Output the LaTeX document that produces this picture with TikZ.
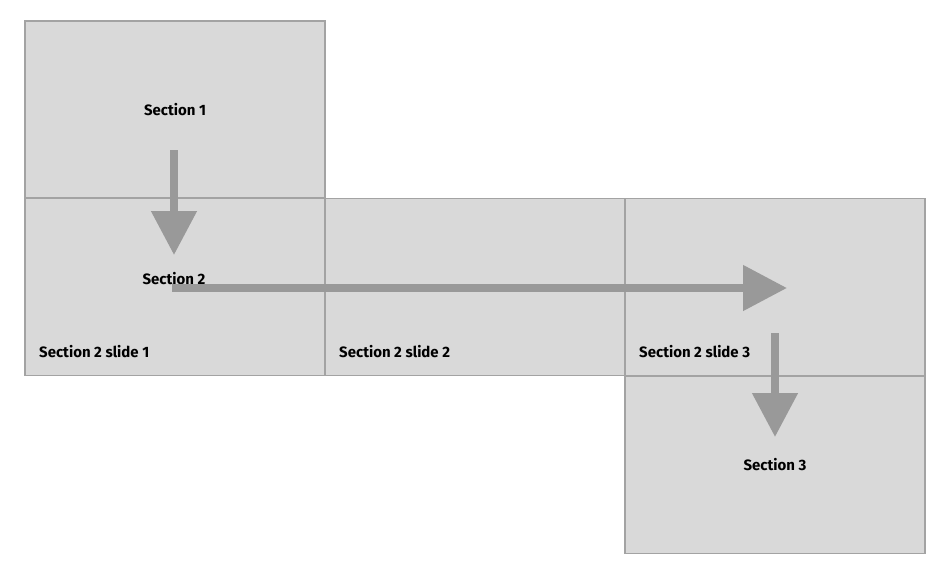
\documentclass[tikz,border=0pt]{standalone}
\usepackage{fontspec}
\setmainfont{Fira Sans}
\usetikzlibrary{arrows.meta}
\definecolor{boxfill}{HTML}{D9D9D9}
\definecolor{boxline}{HTML}{A3A3A3}
\definecolor{flowgray}{HTML}{999999}
\tikzset{
  slidebox/.style={draw=boxline, line width=1.3pt, fill=boxfill, minimum width=300pt, minimum height=177pt, inner sep=0pt},
  flow/.style={draw=flowgray, line width=8pt, -{Triangle[width=44pt,length=44pt]}},
  lbl/.style={font=\fontsize{15}{18}\selectfont\bfseries, inner sep=0pt}
}
\begin{document}
\begin{tikzpicture}[x=1pt,y=-1pt]
   \useasboundingbox (0,0) rectangle (947,576);

   % boxes
   \node[slidebox] (sec1) at (175,109.5) {};
   \node[slidebox] (slide1) at (175,287) {};
   \node[slidebox] (slide2) at (475,287) {};
   \node[slidebox] (slide3) at (775,287) {};
   \node[slidebox] (sec3) at (775,465) {};

   % labels
   \node[lbl] (t1) at (sec1) {Section 1};
   \node[lbl] (t2) at (174,279) {Section 2};
   \node[lbl, anchor=west] (ts1) at (39,352) {Section 2 slide 1};
   \node[lbl, anchor=west] (ts2) at (339,352) {Section 2 slide 2};
   \node[lbl, anchor=west] (ts3) at (639,352) {Section 2 slide 3};
   \node[lbl] (t3) at (sec3) {Section 3};

   % arrows
   \coordinate (d1a) at (174,150);
   \coordinate (d1b) at (174,255);
   \coordinate (ra) at (172,288);
   \coordinate (rb) at (787,288);
   \coordinate (d2a) at (775,333);
   \coordinate (d2b) at (775,437);
   \draw[flow] (d1a) -- (d1b);
   \draw[flow] (ra) -- (rb);
   \draw[flow] (d2a) -- (d2b);
\end{tikzpicture}
\end{document}
